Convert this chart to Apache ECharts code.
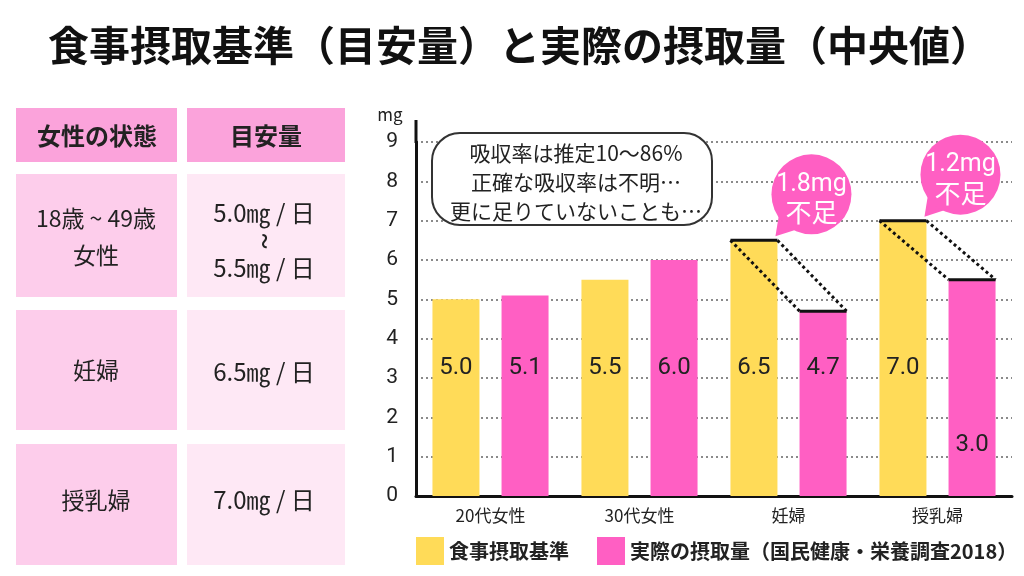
<!DOCTYPE html>
<html><head><meta charset="utf-8">
<script src="https://cdn.jsdelivr.net/npm/echarts@6/dist/echarts.min.js"></script>
<style>html,body{margin:0;padding:0;background:#fff}#c{width:1024px;height:576px}</style>
</head><body><div id="c"></div>
<script>
// ---- data ----
const categories = ['20代女性', '30代女性', '妊婦', '授乳婦'];
const standardValues = [5.0, 5.5, 6.5, 7.0];
const actualValues = [5.1, 6.0, 4.7, 5.5];
const standardLabels = ['5.0', '5.5', '6.5', '7.0'];
const actualLabels = ['5.1', '6.0', '4.7', '3.0'];
const yTicks = [0, 1, 2, 3, 4, 5, 6, 7, 8, 9];
const shortfallIndex = [2, 3];
const shortfallText = ['1.8mg', '1.2mg'];
const seriesNames = ['食事摂取基準', '実際の摂取量（国民健康・栄養調査2018）'];
const titleText = '食事摂取基準（目安量）と実際の摂取量（中央値）';
const noteLines = ['吸収率は推定10〜86%', '正確な吸収率は不明…', '更に足りていないことも…'];
const tableHeader = ['女性の状態', '目安量'];
const tableLeft = [['18歳 ~ 49歳', '女性'], ['妊婦'], ['授乳婦']];
const tableRight = [['5.0㎎ / 日', '5.5㎎ / 日'], ['6.5㎎ / 日'], ['7.0㎎ / 日']];

// ---- styles ----
const FONT = '"Noto Sans CJK JP", "Noto Sans", sans-serif';
const NUMFONT = 'Roboto, "Noto Sans CJK JP", sans-serif';
const YELLOW = '#FFDB58';
const PINK = '#FF5FC3';
const BAR_W = 47, BAR_GAP = 0.47;

const chart = echarts.init(document.getElementById('c'));

const g = [];
g.push({type:'text', z:100, style:{x:48, y:45, text:titleText, font:'bold 41px ' + FONT, fill:'#111', textVerticalAlign:'middle'}});
const colX = [[16, 177], [187, 345]];
const rowY = [[108, 162], [174, 297], [310, 430], [444, 565]];
const cellFill = [['#FBA3DB', '#FBA3DB'], ['#FDCDEB', '#FEE8F5'], ['#FDCDEB', '#FEE8F5'], ['#FDCDEB', '#FEE8F5']];
rowY.forEach((ry, ri) => {
  colX.forEach((cx, ci) => {
    g.push({type:'rect', z:1, shape:{x:cx[0], y:ry[0], width:cx[1]-cx[0], height:ry[1]-ry[0]}, style:{fill:cellFill[ri][ci]}});
  });
});
function t(x, y, text, font) {
  return {type:'text', z:100, style:{x:x, y:y, text:text, font:font, fill:'#222', textAlign:'center', textVerticalAlign:'middle'}};
}
g.push(t(97, 136, tableHeader[0], 'bold 24px ' + FONT));
g.push(t(266, 136, tableHeader[1], 'bold 24px ' + FONT));
g.push(t(96, 218, tableLeft[0][0], '23px ' + FONT));
g.push(t(96, 255, tableLeft[0][1], '23px ' + FONT));
g.push(t(264, 213, tableRight[0][0], '24px ' + FONT));
g.push({type:'text', z:100, x:263, y:241, rotation:-Math.PI/2, style:{x:0, y:0, text:'~', font:'26px Roboto, sans-serif', fill:'#222', textAlign:'center', textVerticalAlign:'middle'}});
g.push(t(264, 268, tableRight[0][1], '24px ' + FONT));
g.push(t(96, 370, tableLeft[1][0], '23px ' + FONT));
g.push(t(264, 372, tableRight[1][0], '24px ' + FONT));
g.push(t(96, 500, tableLeft[2][0], '23px ' + FONT));
g.push(t(264, 500, tableRight[2][0], '24px ' + FONT));
// y axis extension + unit
g.push({type:'line', z:100, shape:{x1:416, y1:120, x2:416, y2:143}, style:{stroke:'#111', lineWidth:3}});
g.push(t(390, 115, 'mg', '17px ' + FONT));
// note box
g.push({type:'rect', z:100, shape:{x:432, y:133, width:280, height:92, r:28}, style:{fill:'#fff', stroke:'#333', lineWidth:2}});
g.push({type:'text', z:101, style:{x:576, y:182, text:noteLines.join('\n'), font:'21px ' + FONT, lineHeight:29, fill:'#222', textAlign:'center', textVerticalAlign:'middle'}});

const barOffset = (BAR_W + BAR_W * BAR_GAP) / 2;

const option = {
  backgroundColor: '#fff',
  animation: false,
  textStyle: {fontFamily: FONT},
  grid: {left: 416, top: 142, width: 596, height: 354, containLabel: false},
  legend: {
    left: 416, top: 537, width: 700, padding: 0, itemWidth: 28, itemHeight: 28, itemGap: 28, icon: 'rect',
    data: seriesNames,
    textStyle: {fontSize: 20, fontWeight: 'bold', color: '#222', fontFamily: FONT}
  },
  xAxis: {
    type: 'category', data: categories,
    axisLine: {show: true, lineStyle: {color: '#111', width: 3}},
    axisTick: {show: false},
    axisLabel: {fontSize: 17, color: '#222', margin: 11, fontFamily: FONT}
  },
  yAxis: {
    type: 'value', min: yTicks[0], max: yTicks[yTicks.length - 1], interval: 1,
    axisLine: {show: true, lineStyle: {color: '#111', width: 3}},
    axisTick: {show: false},
    axisLabel: {fontSize: 21, color: '#222', margin: 18, fontFamily: NUMFONT},
    splitLine: {show: true, lineStyle: {color: '#8a8a8a', width: 2, type: [2, 3]}}
  },
  graphic: g,
  series: [
    {
      name: seriesNames[0], type: 'bar', barWidth: BAR_W, barGap: (BAR_GAP * 100) + '%',
      itemStyle: {color: YELLOW},
      data: standardValues.map((v, i) => ({value: v, label: {formatter: standardLabels[i]}})),
      label: {show: true, position: 'insideBottom', distance: 116, fontSize: 24, color: '#222', fontFamily: NUMFONT}
    },
    {
      name: seriesNames[1], type: 'bar', barWidth: BAR_W,
      itemStyle: {color: PINK},
      data: actualValues.map((v, i) => {
        const item = {value: v, label: {formatter: actualLabels[i]}};
        if (i === 3) item.label.distance = 39;
        return item;
      }),
      label: {show: true, position: 'insideBottom', distance: 116, fontSize: 24, color: '#222', fontFamily: NUMFONT}
    },
    {
      type: 'custom', z: 5, silent: true,
      data: shortfallIndex.map(i => [i, standardValues[i], actualValues[i]]),
      encode: {x: 0, y: 1},
      renderItem: function (params, api) {
        const idx = api.value(0);
        const pS = api.coord([idx, api.value(1)]);
        const pA = api.coord([idx, api.value(2)]);
        const yc = pS[0] - barOffset, pc = pS[0] + barOffset;
        const yl = yc - BAR_W / 2, yr = yc + BAR_W / 2;
        const pl = pc - BAR_W / 2, pr = pc + BAR_W / 2;
        const ys = pS[1], ya = pA[1];
        const dotted = {stroke: '#111', lineWidth: 3, lineDash: [3, 3]};
        const cx = yr + 34, cy = ys - 46, r = 40;
        const tipX = yr - 2, tipY = ys - 4;
        const ang = Math.atan2(tipY - cy, tipX - cx);
        const a1 = ang - 0.38, a2 = ang + 0.38;
        return {
          type: 'group',
          children: [
            {type: 'line', shape: {x1: yl, y1: ys, x2: pl, y2: ya}, style: dotted},
            {type: 'line', shape: {x1: yr, y1: ys, x2: pr, y2: ya}, style: dotted},
            {type: 'line', shape: {x1: yl, y1: ys, x2: yr, y2: ys}, style: {stroke: '#111', lineWidth: 3}},
            {type: 'line', shape: {x1: pl, y1: ya, x2: pr, y2: ya}, style: {stroke: '#111', lineWidth: 3}},
            {type: 'polygon', shape: {points: [[tipX, tipY], [cx + r * Math.cos(a1) * 0.9, cy + r * Math.sin(a1) * 0.9], [cx + r * Math.cos(a2) * 0.9, cy + r * Math.sin(a2) * 0.9]]}, style: {fill: PINK}},
            {type: 'circle', shape: {cx: cx, cy: cy, r: r}, style: {fill: PINK}},
            {type: 'text', style: {x: cx, y: cy - 10, text: shortfallText[params.dataIndex], font: '25px ' + NUMFONT, fill: '#fff', textAlign: 'center', textVerticalAlign: 'middle'}},
            {type: 'text', style: {x: cx, y: cy + 18, text: '不足', font: '26px ' + FONT, fill: '#fff', textAlign: 'center', textVerticalAlign: 'middle'}}
          ]
        };
      }
    }
  ]
};
chart.setOption(option);
</script>
</body></html>
